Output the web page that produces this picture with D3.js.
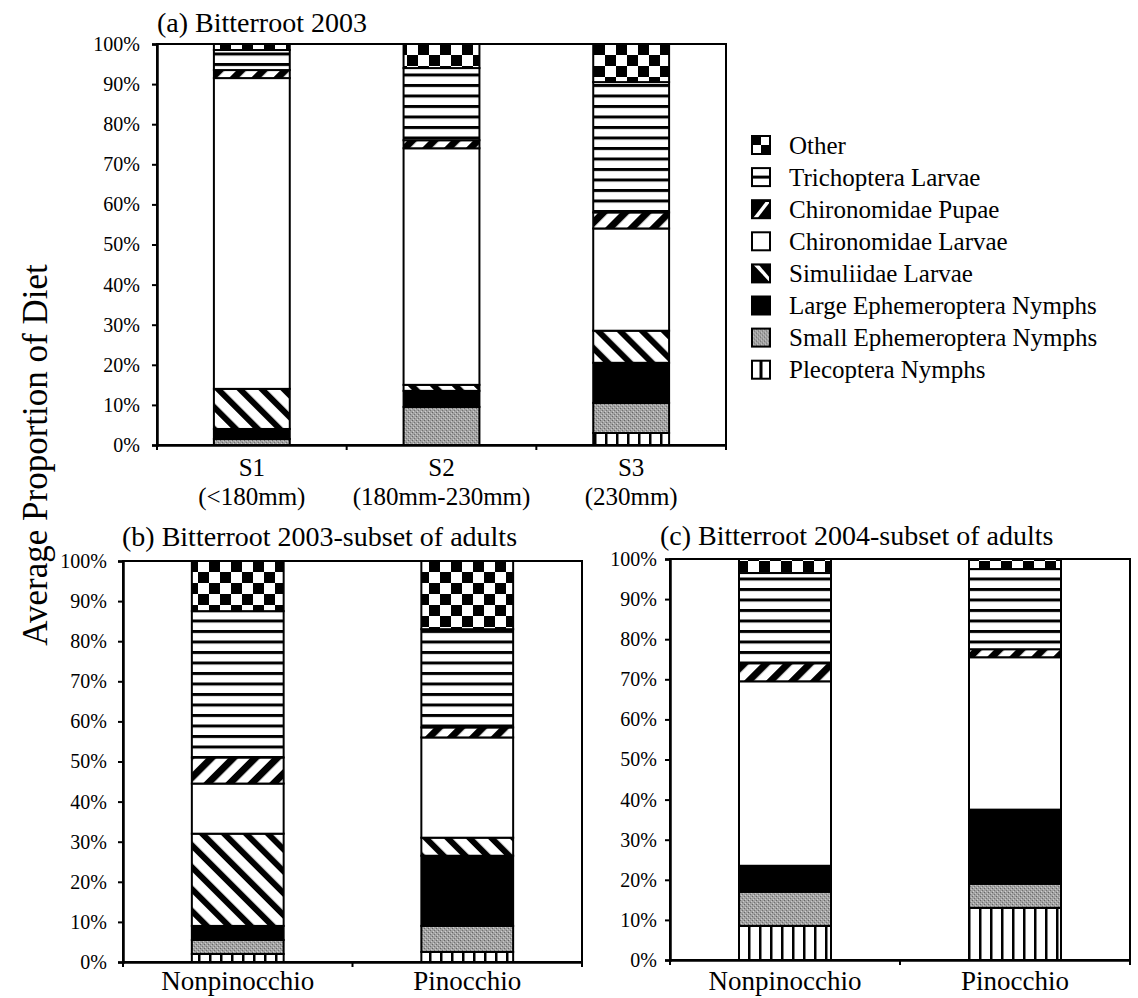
<!DOCTYPE html>
<html>
<head>
<meta charset="utf-8">
<script src="https://cdn.jsdelivr.net/npm/d3@7/dist/d3.min.js"></script>
<style>
  html, body { margin: 0; padding: 0; background: #fff; }
  svg { display: block; }
  text { font-family: "Liberation Serif", "Times New Roman", serif; fill: #000; }
</style>
</head>
<body>
<svg id="chart" width="1138" height="998"></svg>
<script>
// Diet categories, stacked bottom to top
const dietItems = [
  "Plecoptera Nymphs",
  "Small Ephemeroptera Nymphs",
  "Large Ephemeroptera Nymphs",
  "Simuliidae Larvae",
  "Chironomidae Larvae",
  "Chironomidae Pupae",
  "Trichoptera Larvae",
  "Other"
];

// (a) Bitterroot 2003, by size class (% of diet, same order as dietItems)
const sizeClasses = ["S1", "S2", "S3"];
const sizeRanges = ["(<180mm)", "(180mm-230mm)", "(230mm)"];
const dietS1 = [0, 1.5, 2.5, 10, 77.5, 2, 5, 1.5];
const dietS2 = [0, 9.5, 4, 1.5, 59, 2, 18, 6];
const dietS3 = [3, 7.5, 10, 8, 25.5, 4, 32.5, 9.5];

// (b) Bitterroot 2003, subset of adults
const adultGroups = ["Nonpinocchio", "Pinocchio"];
const diet2003Non = [2, 3.5, 3.5, 23, 12.5, 6.5, 36.5, 12.5];
const diet2003Pin = [2.5, 6.5, 17.5, 4.5, 25, 2.5, 24.5, 17];

// (c) Bitterroot 2004, subset of adults
const diet2004Non = [8.5, 8.5, 6.5, 0, 46, 4.5, 22.5, 3.5];
const diet2004Pin = [13, 6, 18.5, 0, 38, 2, 20, 2.5];

const yTicks = [0, 10, 20, 30, 40, 50, 60, 70, 80, 90, 100];

const svg = d3.select("#chart");
const defs = svg.append("defs");

// ---- fill patterns ----
function pattern(id, w, h, extra) {
  const p = defs.append("pattern")
    .attr("id", id)
    .attr("patternUnits", "userSpaceOnUse")
    .attr("width", w).attr("height", h);
  if (extra) p.attr("patternTransform", extra);
  return p;
}
// checkerboard
{
  const p = pattern("pat-other", 22, 22);
  p.append("rect").attr("width", 22).attr("height", 22).attr("fill", "#fff");
  p.append("rect").attr("width", 11).attr("height", 11).attr("fill", "#000");
  p.append("rect").attr("x", 11).attr("y", 11).attr("width", 11).attr("height", 11).attr("fill", "#000");
}
// horizontal lines
{
  const p = pattern("pat-trich", 10, 10.5);
  p.append("rect").attr("width", 10).attr("height", 10.5).attr("fill", "#fff");
  p.append("rect").attr("y", 0).attr("width", 10).attr("height", 3).attr("fill", "#000");
}
// wide "/" stripes
{
  const p = pattern("pat-pupae", 15.5, 15.5, "rotate(45)");
  p.append("rect").attr("width", 15.5).attr("height", 15.5).attr("fill", "#fff");
  p.append("rect").attr("width", 7).attr("height", 15.5).attr("fill", "#000");
}
// "\" stripes
{
  const p = pattern("pat-simul", 15.5, 15.5, "rotate(-45)");
  p.append("rect").attr("width", 15.5).attr("height", 15.5).attr("fill", "#fff");
  p.append("rect").attr("width", 6).attr("height", 15.5).attr("fill", "#000");
}
// vertical lines
{
  const p = pattern("pat-plec", 11, 10);
  p.append("rect").attr("width", 11).attr("height", 10).attr("fill", "#fff");
  p.append("rect").attr("x", 0).attr("width", 2.5).attr("height", 10).attr("fill", "#000");
}
// grainy grey
{
  const p = pattern("pat-small", 4, 4);
  p.append("rect").attr("width", 4).attr("height", 4).attr("fill", "#a2a2a2");
  p.append("rect").attr("x", 0).attr("y", 0).attr("width", 1).attr("height", 1).attr("fill", "#666");
  p.append("rect").attr("x", 2).attr("y", 2).attr("width", 1).attr("height", 1).attr("fill", "#727272");
  p.append("rect").attr("x", 3).attr("y", 1).attr("width", 1).attr("height", 1).attr("fill", "#c8c8c8");
  p.append("rect").attr("x", 1).attr("y", 3).attr("width", 1).attr("height", 1).attr("fill", "#d0d0d0");
}

const fills = [
  "url(#pat-plec)",
  "url(#pat-small)",
  "#000",
  "url(#pat-simul)",
  "#fff",
  "url(#pat-pupae)",
  "url(#pat-trich)",
  "url(#pat-other)"
];

const stack = d3.stack()
  .keys(d3.range(dietItems.length))
  .value((row, k) => row.values[k]);

function drawPanel(cfg) {
  const g = svg.append("g");
  const x = d3.scaleBand()
    .domain(cfg.categories)
    .range([cfg.left, cfg.right])
    .paddingInner(0.6)
    .paddingOuter(0.3);
  const y = d3.scaleLinear().domain([0, 100]).range([cfg.bottom, cfg.top]);

  const rows = cfg.categories.map((c, i) => ({ cat: c, values: cfg.series[i] }));
  const layers = stack(rows);

  // plot frame
  g.append("rect")
    .attr("x", cfg.left).attr("y", cfg.top)
    .attr("width", cfg.right - cfg.left).attr("height", cfg.bottom - cfg.top)
    .attr("fill", "#fff").attr("stroke", "#000").attr("stroke-width", 2);

  // stacked segments
  layers.forEach((layer, k) => {
    g.append("g").selectAll("rect")
      .data(layer.filter(d => d[1] - d[0] > 0))
      .join("rect")
      .attr("x", d => x(d.data.cat))
      .attr("width", x.bandwidth())
      .attr("y", d => y(d[1]))
      .attr("height", d => y(d[0]) - y(d[1]))
      .attr("fill", fills[k])
      .attr("stroke", "#000")
      .attr("stroke-width", 2);
  });

  // y axis
  const ya = g.append("g")
    .attr("transform", `translate(${cfg.left},0)`)
    .call(d3.axisLeft(y).tickValues(yTicks).tickSize(5).tickPadding(cfg.tickPad).tickFormat(d => d + "%"));
  ya.select(".domain").attr("stroke-width", 2.5);
  ya.selectAll(".tick line").attr("stroke-width", 2);
  ya.selectAll("text").attr("font-size", 20).attr("font-family", "Liberation Serif, Times New Roman, serif");

  // x axis with category labels
  const xa = g.append("g")
    .attr("transform", `translate(0,${cfg.bottom})`)
    .call(d3.axisBottom(x).tickSize(0).tickPadding(0));
  xa.select(".domain").attr("stroke-width", 2.5);
  xa.selectAll(".tick text").remove();
  xa.selectAll(".tick").each(function (c, i) {
    const tick = d3.select(this);
    tick.append("text")
      .attr("text-anchor", "middle")
      .attr("font-size", cfg.labelSize)
      .attr("y", cfg.labelOffset)
      .text(c);
    if (cfg.sublabels) {
      tick.append("text")
        .attr("text-anchor", "middle")
        .attr("font-size", cfg.labelSize)
        .attr("y", cfg.labelOffset + 29)
        .text(cfg.sublabels[i]);
    }
  });
  // boundary tick marks between categories
  const step = x.step();
  xa.selectAll("line.bound")
    .data(d3.range(cfg.categories.length + 1))
    .join("line")
    .attr("class", "bound")
    .attr("x1", i => cfg.left + i * step)
    .attr("x2", i => cfg.left + i * step)
    .attr("y1", 0).attr("y2", 5)
    .attr("stroke", "#000").attr("stroke-width", 2);

  // panel title
  g.append("text")
    .attr("x", cfg.titleX).attr("y", cfg.titleY)
    .attr("font-size", 28)
    .text(cfg.title);
}

drawPanel({
  title: "(a) Bitterroot 2003", titleX: 157, titleY: 32,
  categories: sizeClasses, sublabels: sizeRanges,
  series: [dietS1, dietS2, dietS3],
  left: 157, right: 726, top: 44, bottom: 445, labelOffset: 31, labelSize: 25, tickPad: 12
});
drawPanel({
  title: "(b) Bitterroot 2003-subset of adults", titleX: 122, titleY: 546,
  categories: adultGroups,
  series: [diet2003Non, diet2003Pin],
  left: 123, right: 582, top: 561, bottom: 962, labelOffset: 28, labelSize: 27, tickPad: 11
});
drawPanel({
  title: "(c) Bitterroot 2004-subset of adults", titleX: 660, titleY: 545,
  categories: adultGroups,
  series: [diet2004Non, diet2004Pin],
  left: 670, right: 1130, top: 559, bottom: 960, labelOffset: 30, labelSize: 27, tickPad: 8
});

// shared y-axis title
svg.append("text")
  .attr("transform", "translate(47,455) rotate(-90)")
  .attr("text-anchor", "middle")
  .attr("font-size", 35)
  .text("Average Proportion of Diet");

// ---- legend (top item first) ----
const legend = svg.append("g").attr("transform", "translate(752,136)");
const legendOrder = d3.range(dietItems.length).reverse();
const rowH = 32.1, box = 18;
const iconClip = defs.append("clipPath").attr("id", "icon-clip");
iconClip.append("rect").attr("width", box).attr("height", box);

const icons = {
  7: g => {   // checker
    g.append("rect").attr("width", box).attr("height", box).attr("fill", "#fff");
    g.append("rect").attr("width", box / 2).attr("height", box / 2).attr("fill", "#000");
    g.append("rect").attr("x", box / 2).attr("y", box / 2).attr("width", box / 2).attr("height", box / 2).attr("fill", "#000");
  },
  6: g => {   // horizontal line
    g.append("rect").attr("width", box).attr("height", box).attr("fill", "#fff");
    g.append("rect").attr("y", box / 2 - 1.5).attr("width", box).attr("height", 3).attr("fill", "#000");
  },
  5: g => {   // "/" stripe
    g.append("rect").attr("width", box).attr("height", box).attr("fill", "#000");
    g.append("polygon").attr("points", `${box * 0.75},${box * 0.1} ${box},${box * 0.1} ${box * 0.3},${box} ${box * 0.05},${box}`).attr("fill", "#fff");
  },
  4: g => {
    g.append("rect").attr("width", box).attr("height", box).attr("fill", "#fff");
  },
  3: g => {   // "\" stripe
    g.append("rect").attr("width", box).attr("height", box).attr("fill", "#000");
    g.append("polygon").attr("points", `${box * 0.1},${box * 0.05} ${box * 0.4},${box * 0.05} ${box},${box * 0.75} ${box},${box}`).attr("fill", "#fff");
  },
  2: g => {
    g.append("rect").attr("width", box).attr("height", box).attr("fill", "#000");
  },
  1: g => {
    g.append("rect").attr("width", box).attr("height", box).attr("fill", "url(#pat-small)");
  },
  0: g => {   // vertical line
    g.append("rect").attr("width", box).attr("height", box).attr("fill", "#fff");
    g.append("rect").attr("x", box / 2 - 1.5).attr("width", 3).attr("height", box).attr("fill", "#000");
  }
};

legendOrder.forEach((k, i) => {
  const row = legend.append("g").attr("transform", `translate(0,${i * rowH})`);
  const ic = row.append("g").attr("clip-path", "url(#icon-clip)");
  icons[k](ic);
  row.append("rect").attr("width", box).attr("height", box)
    .attr("fill", "none").attr("stroke", "#000").attr("stroke-width", 2);
  row.append("text")
    .attr("x", 37).attr("y", box / 2).attr("dy", "0.35em")
    .attr("font-size", 25)
    .text(dietItems[k]);
});
</script>
</body>
</html>
